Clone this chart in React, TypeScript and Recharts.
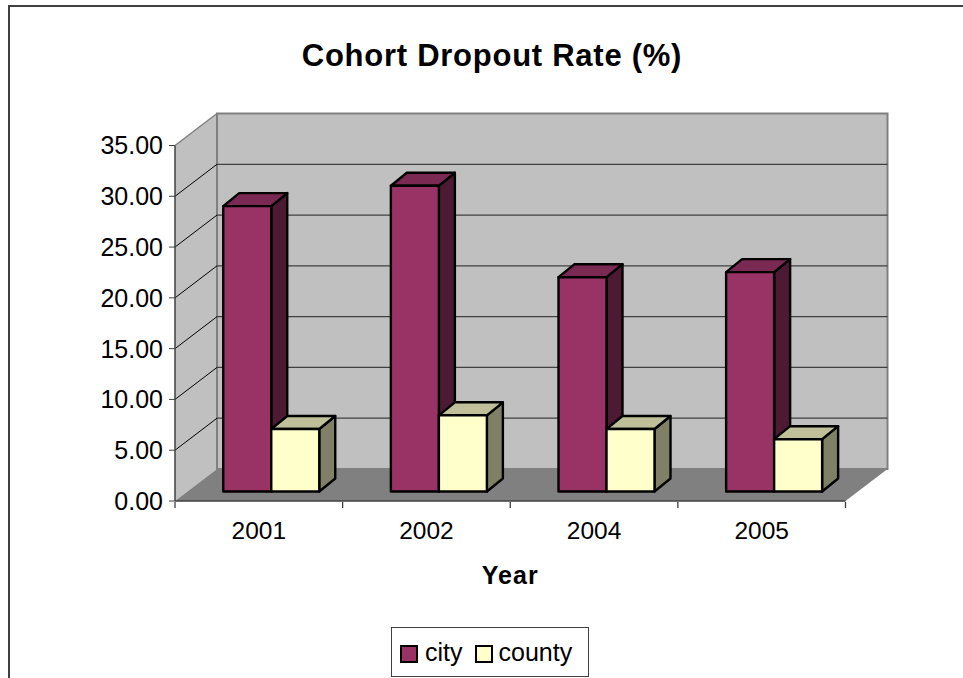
import { BarChart, Bar, XAxis, YAxis, CartesianGrid, Legend, Customized, usePlotArea } from "recharts";

const years = ["2001", "2002", "2004", "2005"];
const cityRates = [28.1, 30.1, 21.1, 21.6];
const countyRates = [6.15, 7.5, 6.15, 5.15];
const yTicks = [0, 5, 10, 15, 20, 25, 30, 35];

const chartData = years.map((year, i) => ({ year, city: cityRates[i], county: countyRates[i] }));

const FONT = "'Liberation Sans', Arial, sans-serif";
const WALL_DX = 42;
const WALL_DY = -32;
const BAR_DX = 16;
const BAR_DY = -13;
const BAR_SHIFT_X = 12.25;
const BAR_SHIFT_Y = -9.5;

function pts(list: number[][]) {
  return list.map((p) => p.join(",")).join(" ");
}

function Walls() {
  const plot = usePlotArea();
  if (!plot) return null;
  const { x, y, width, height } = plot;
  const r = x + width;
  const b = y + height;
  return (
    <g>
      <polygon points={pts([[x, y], [x + WALL_DX, y + WALL_DY], [x + WALL_DX, b + WALL_DY], [x, b]])} fill="#C0C0C0" />
      <rect x={x + WALL_DX} y={y + WALL_DY} width={width} height={height} fill="#C0C0C0" stroke="#808080" strokeWidth={2} />
      <polygon points={pts([[x, b], [x + WALL_DX, b + WALL_DY], [r + WALL_DX, b + WALL_DY], [r, b]])} fill="#808080" />
      <line x1={x} y1={y} x2={x + WALL_DX} y2={y + WALL_DY} stroke="#808080" strokeWidth={1.5} />
    </g>
  );
}

function GridLine(props: any) {
  const { x1, y1, x2, index } = props;
  // top and bottom lines are the wall edges
  if (index === 0 || index === yTicks.length - 1) return null;
  return (
    <g key={`grid-${index}`}>
      <line x1={x1} y1={y1} x2={x1 + WALL_DX} y2={y1 + WALL_DY} stroke="#000" strokeWidth={1} />
      <line x1={x1 + WALL_DX} y1={y1 + WALL_DY} x2={x2 + WALL_DX} y2={y1 + WALL_DY} stroke="#404040" strokeWidth={1.3} />
    </g>
  );
}

function Bar3D(props: any) {
  const { x, y, width, height, front, top, side } = props;
  const l = x + BAR_SHIFT_X;
  const r = l + width;
  const t = y + BAR_SHIFT_Y;
  const b = t + height;
  return (
    <g stroke="#000" strokeWidth={2.4} strokeLinejoin="round">
      <polygon points={pts([[r, t], [r + BAR_DX, t + BAR_DY], [r + BAR_DX, b + BAR_DY], [r, b]])} fill={side} />
      <polygon points={pts([[l, t], [l + BAR_DX, t + BAR_DY], [r + BAR_DX, t + BAR_DY], [r, t]])} fill={top} />
      <rect x={l} y={t} width={width} height={height} fill={front} />
    </g>
  );
}

function YearTick(props: any) {
  const { x, y, index, payload, visibleTicksCount } = props;
  const step = props.width / visibleTicksCount;
  const left = x - step / 2;
  return (
    <g>
      <line x1={left} y1={y - 13} x2={left} y2={y - 7} stroke="#404040" strokeWidth={1.3} />
      {index === visibleTicksCount - 1 ? (
        <line x1={left + step} y1={y - 13} x2={left + step} y2={y - 7} stroke="#404040" strokeWidth={1.3} />
      ) : null}
      <text x={x} y={y + 24} textAnchor="middle" fontSize={24.5} fontFamily={FONT} fill="#000">
        {payload.value}
      </text>
    </g>
  );
}

function LegendBox() {
  return (
    <div
      style={{
        boxSizing: "border-box",
        width: 198,
        height: 50,
        border: "1.5px solid #404040",
        background: "#fff",
        display: "flex",
        alignItems: "center",
        fontFamily: FONT,
        fontSize: 25,
        color: "#000",
        paddingLeft: 8,
      }}
    >
      <span style={{ boxSizing: "border-box", width: 18, height: 18, background: "#993366", border: "2px solid #000", marginRight: 7, marginTop: 3 }} />
      <span style={{ marginRight: 12 }}>city</span>
      <span style={{ boxSizing: "border-box", width: 18, height: 18, background: "#FFFFCC", border: "2px solid #000", marginRight: 6, marginTop: 3 }} />
      <span>county</span>
    </div>
  );
}

export default function App() {
  return (
    <div style={{ position: "absolute", left: 0, top: 0, width: 963, height: 678, overflow: "hidden", background: "#fff" }}>
      <div style={{ position: "absolute", left: 8, top: 5, width: 955, height: 2, background: "#404040" }} />
      <div style={{ position: "absolute", left: 8, top: 5, width: 2, height: 673, background: "#404040" }} />
      <div
        style={{
          position: "absolute",
          left: 0,
          top: 36,
          width: 984,
          textAlign: "center",
          fontFamily: FONT,
          fontWeight: "bold",
          fontSize: 31,
          letterSpacing: 0.74,
          lineHeight: "40px",
          color: "#000",
        }}
      >
        Cohort Dropout Rate (%)
      </div>
      <BarChart
        width={963}
        height={678}
        data={chartData}
        margin={{ top: 145.5, right: 117.5, bottom: -50, left: 0 }}
        barSize={48}
        barGap={0}
        barCategoryGap={0}
        style={{ position: "absolute", left: 0, top: 0 }}
      >
        <Customized component={Walls} />
        <CartesianGrid vertical={false} horizontal={GridLine} zIndex={1} />
        <XAxis
          dataKey="year"
          axisLine={{ stroke: "#404040", strokeWidth: 1.5 }}
          tickLine={false}
          tick={YearTick}
          tickMargin={8}
          interval={0}
          height={177}
          label={{ value: "Year", position: "insideTop", offset: 65, fontFamily: FONT, fontWeight: "bold", fontSize: 25, letterSpacing: 1, fill: "#000" }}
        />
        <YAxis
          domain={[0, 35]}
          ticks={yTicks}
          width={175}
          tickFormatter={(v: number) => v.toFixed(2)}
          axisLine={{ stroke: "#404040", strokeWidth: 1.5 }}
          tickLine={{ stroke: "#404040" }}
          tickSize={6}
          tickMargin={6}
          tick={{ fontFamily: FONT, fontSize: 25, fill: "#000" }}
        />
        <Bar dataKey="city" isAnimationActive={false} shape={(p: any) => <Bar3D {...p} front="#993366" top="#7A2952" side="#4D1A33" />} />
        <Bar dataKey="county" isAnimationActive={false} shape={(p: any) => <Bar3D {...p} front="#FFFFCC" top="#BFBF99" side="#808066" />} />
        <Legend content={<LegendBox />} wrapperStyle={{ position: "absolute", left: 391, top: 627, width: 198, height: 50 }} />
      </BarChart>
    </div>
  );
}
